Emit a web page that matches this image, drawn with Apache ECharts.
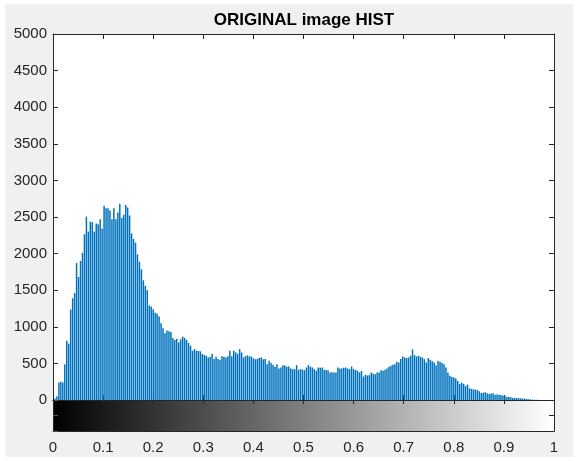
<!DOCTYPE html>
<html>
<head>
<meta charset="utf-8">
<script src="https://cdn.jsdelivr.net/npm/echarts@6/dist/echarts.min.js"></script>
<style>
  html, body { margin: 0; padding: 0; background: #ffffff; }
  #bg { position: absolute; left: 5px; top: 4px; right: 6px; bottom: 4px; background: #f0f0f0; }
  #chart { position: absolute; left: 0; top: 0; width: 579px; height: 461px; }
</style>
</head>
<body>
<div id="bg"></div>
<div id="chart"></div>
<script>
// Histogram counts, 256 bins over [0, 1]
const counts = [
  0, 20, 50, 240, 250, 240, 490, 810, 770, 1237,
  1390, 1460, 1870, 1680, 1900, 2010, 2263, 2505, 2300, 2436,
  2430, 2300, 2410, 2400, 2470, 2340, 2652, 2620, 2620, 2590,
  2470, 2620, 2470, 2560, 2680, 2485, 2530, 2665, 2630, 2520,
  2277, 2200, 2150, 1990, 1890, 1786, 1635, 1560, 1500, 1290,
  1278, 1240, 1191, 1177, 1140, 1049, 980, 911, 948, 940,
  930, 848, 820, 838, 787, 830, 866, 848, 820, 780,
  742, 673, 696, 673, 670, 665, 628, 615, 605, 582,
  590, 628, 559, 590, 560, 545, 596, 590, 582, 596,
  673, 596, 673, 650, 630, 695, 650, 582, 600, 610,
  596, 595, 570, 558, 560, 575, 582, 558, 560, 490,
  536, 504, 480, 453, 490, 430, 444, 476, 470, 453,
  458, 430, 421, 421, 476, 412, 421, 415, 408, 444,
  476, 455, 444, 421, 399, 444, 440, 444, 412, 410,
  408, 376, 380, 376, 376, 444, 430, 430, 440, 444,
  430, 421, 458, 421, 410, 399, 376, 395, 320, 343,
  335, 339, 376, 360, 353, 376, 376, 408, 400, 412,
  430, 453, 467, 480, 490, 522, 513, 560, 595, 582,
  573, 582, 605, 690, 614, 595, 605, 590, 582, 558,
  513, 573, 550, 530, 513, 476, 536, 522, 505, 490,
  444, 376, 330, 315, 307, 293, 260, 220, 238, 220,
  190, 211, 160, 151, 145, 142, 137, 120, 96, 100,
  105, 92, 82, 88, 92, 73, 75, 72, 70, 60,
  50, 46, 40, 37, 30, 27, 27, 25, 23, 20,
  20, 15, 10, 8, 5, 4, 3, 2, 1, 0,
  0, 0, 0, 0, 0, 0
];
// Bin centres: 256 equally spaced gray levels from 0 to 1
const binCenters = counts.map((_, i) => i / 255);
const xTickLabels = ['0', '0.1', '0.2', '0.3', '0.4', '0.5', '0.6', '0.7', '0.8', '0.9', '1'];
const yTickLabels = ['0', '500', '1000', '1500', '2000', '2500', '3000', '3500', '4000', '4500', '5000'];
const titleText = 'ORIGINAL image HIST';

const FONT = "'Liberation Sans', Arial, Helvetica, sans-serif";
const INK = '#262626';

const chart = echarts.init(document.getElementById('chart'), null, { renderer: 'canvas' });

const lineStyle = { color: INK, width: 1 };
const baseX = {
  type: 'value', min: 0, max: 1, interval: 0.1,
  axisLine: { show: true, onZero: false, lineStyle },
  axisTick: { show: true, inside: true, length: 5, lineStyle },
  axisLabel: { show: false },
  splitLine: { show: false }
};

const option = {
  animation: false,
  backgroundColor: 'transparent',
  graphic: [{
    type: 'text', x: 304, y: 12,
    style: { text: titleText, textAlign: 'center', textVerticalAlign: 'top',
             font: 'bold 17px ' + FONT, fill: '#000' }
  }],
  grid: [
    { left: 53, right: 25, top: 34, height: 366, show: true, backgroundColor: '#ffffff', borderWidth: 0 },
    { left: 53, right: 25, top: 400, height: 31, show: true, borderWidth: 0,
      backgroundColor: new echarts.graphic.LinearGradient(0, 0, 1, 0, [
        { offset: 0, color: '#000000' }, { offset: 1, color: '#ffffff' }
      ]) }
  ],
  xAxis: [
    Object.assign({}, baseX, { gridIndex: 0, position: 'bottom' }),
    Object.assign({}, baseX, { gridIndex: 0, position: 'top' }),
    Object.assign({}, baseX, {
      gridIndex: 1, position: 'bottom',
      axisTick: { show: false },
      axisLabel: {
        show: true, margin: 9, fontSize: 15, fontFamily: FONT, color: INK,
        formatter: (v) => xTickLabels[Math.round(v * 10)]
      }
    }),
    Object.assign({}, baseX, { gridIndex: 1, position: 'top',
      axisTick: { show: true, inside: true, length: 4, lineStyle } })
  ],
  yAxis: [
    {
      type: 'value', gridIndex: 0, position: 'left', min: 0, max: 5000, interval: 500,
      axisLine: { show: true, onZero: false, lineStyle },
      axisTick: { show: true, inside: true, length: 5, lineStyle },
      axisLabel: { show: true, margin: 6, fontSize: 15, fontFamily: FONT, color: INK,
        formatter: (v) => yTickLabels[Math.round(v / 500)] },
      splitLine: { show: false }
    },
    {
      type: 'value', gridIndex: 0, position: 'right', min: 0, max: 5000, interval: 500,
      axisLine: { show: true, onZero: false, lineStyle },
      axisTick: { show: true, inside: true, length: 5, lineStyle },
      axisLabel: { show: false }, splitLine: { show: false }
    },
    {
      type: 'value', gridIndex: 1, position: 'left', min: 0, max: 2, interval: 1,
      axisLine: { show: true, onZero: false, lineStyle },
      axisTick: { show: true, inside: true, length: 5, lineStyle: { color: '#555', width: 1 } },
      axisLabel: { show: false }, splitLine: { show: false }
    },
    {
      type: 'value', gridIndex: 1, position: 'right', min: 0, max: 2, interval: 1,
      axisLine: { show: true, onZero: false, lineStyle },
      axisTick: { show: true, inside: true, length: 5, lineStyle },
      axisLabel: { show: false }, splitLine: { show: false }
    }
  ],
  series: [{
    type: 'bar',
    xAxisIndex: 0, yAxisIndex: 0,
    barWidth: 1.5,
    itemStyle: { color: '#0072BD' },
    data: binCenters.map((x, i) => [x, counts[i]])
  }]
};
chart.setOption(option);
</script>
</body>
</html>
